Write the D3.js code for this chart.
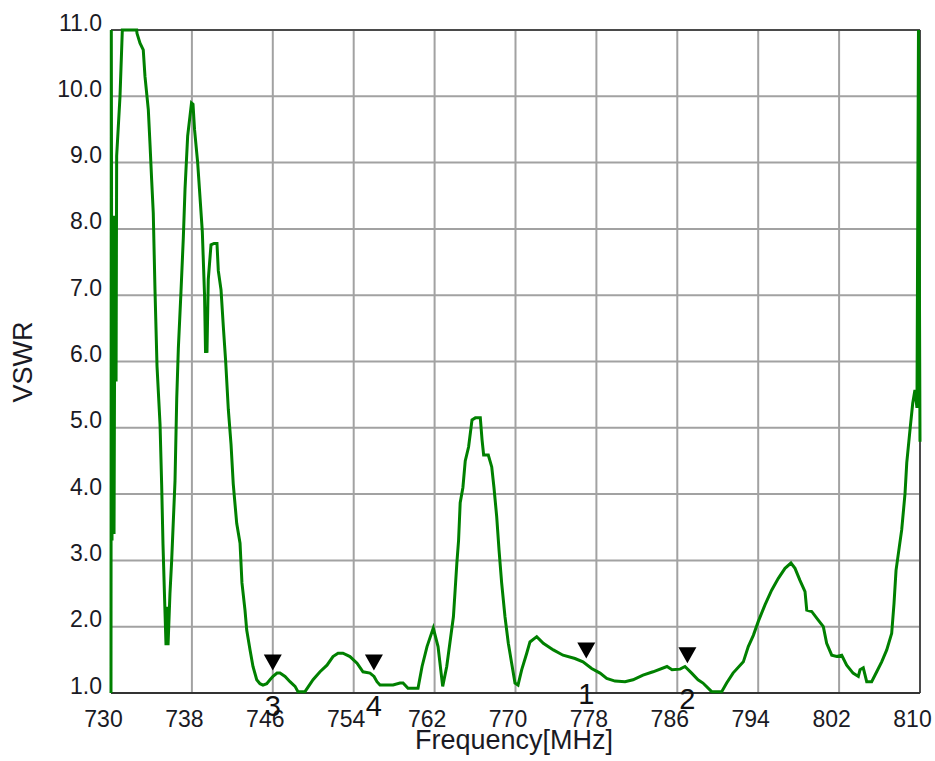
<!DOCTYPE html>
<html>
<head>
<meta charset="utf-8">
<script src="https://cdn.jsdelivr.net/npm/d3@7"></script>
<style>
  body { margin: 0; background: #ffffff; }
  svg { display: block; }
</style>
</head>
<body>
<svg id="chart" width="935" height="761"></svg>
<script>
// Sweep of the antenna port: frequency (MHz) against VSWR
const freqMHz = [
  730.00, 730.03, 730.10, 730.20, 730.30, 730.40, 730.50, 730.56, 730.89, 731.12,
  732.54, 732.57, 732.87, 733.19, 733.36, 733.69, 733.86, 734.02, 734.18, 734.35,
  734.55, 734.85, 735.01, 735.14, 735.29, 735.44, 735.54, 735.64, 735.83, 736.00,
  736.33, 736.50, 736.66, 736.92, 737.15, 737.32, 737.58, 737.81, 737.96, 738.11,
  738.26, 738.57, 738.80, 739.03, 739.25, 739.35, 739.44, 739.49, 739.62, 739.89,
  740.19, 740.48, 740.61, 740.88, 741.11, 741.34, 741.60, 741.87, 742.09, 742.43,
  742.76, 742.95, 743.25, 743.42, 743.75, 744.04, 744.41, 744.73, 745.03, 745.40,
  745.72, 746.02, 746.42, 746.71, 747.21, 747.70, 748.20, 748.49, 749.18, 749.98,
  750.67, 751.36, 751.95, 752.45, 752.94, 753.63, 754.33, 754.92, 755.61, 756.01,
  756.30, 756.60, 757.89, 758.58, 758.88, 759.37, 760.36, 760.76, 761.25, 761.87,
  762.34, 762.80, 763.20, 763.86, 764.03, 764.20, 764.37, 764.53, 764.80, 765.03,
  765.36, 765.70, 766.03, 766.52, 766.69, 766.85, 767.31, 767.65, 767.87, 768.14,
  768.37, 768.63, 768.96, 769.29, 769.62, 769.95, 770.25, 770.61, 771.11, 771.43,
  772.10, 772.75, 773.74, 774.70, 775.88, 776.67, 777.53, 778.36, 779.02, 779.84,
  780.83, 781.62, 782.61, 783.60, 784.98, 785.48, 786.27, 786.76, 787.42, 788.05,
  788.54, 789.40, 790.39, 790.88, 791.51, 792.53, 793.02, 793.52, 794.01, 794.67,
  795.33, 795.99, 796.65, 797.24, 797.64, 798.13, 798.63, 798.80, 799.29, 799.94,
  800.44, 800.77, 801.27, 801.76, 802.26, 802.75, 803.38, 803.90, 804.07, 804.39,
  804.73, 805.22, 805.72, 806.21, 806.71, 807.20, 807.43, 807.63, 807.95, 808.19,
  808.52, 808.69, 809.01, 809.28, 809.50, 809.70, 809.85, 810.00
];
const vswr = [
  1.00, 11.0, 3.30, 8.20, 3.40, 8.20, 5.70, 9.10, 10.0, 11.0,
  11.0, 10.95, 10.8, 10.7, 10.3, 9.80, 9.27, 8.74, 8.24, 7.08,
  5.93, 5.05, 4.14, 3.25, 2.47, 1.72, 2.30, 1.72, 2.50, 3.00,
  4.20, 5.44, 6.20, 7.05, 7.86, 8.60, 9.40, 9.70, 9.90, 9.88,
  9.50, 9.00, 8.48, 7.96, 7.00, 6.13, 6.60, 6.13, 7.24, 7.76,
  7.78, 7.78, 7.37, 7.08, 6.52, 6.00, 5.28, 4.75, 4.15, 3.56,
  3.26, 2.66, 2.25, 1.95, 1.65, 1.40, 1.20, 1.14, 1.12, 1.14,
  1.20, 1.25, 1.30, 1.30, 1.25, 1.17, 1.10, 1.02, 1.02, 1.20,
  1.32, 1.42, 1.55, 1.60, 1.60, 1.55, 1.45, 1.32, 1.30, 1.25,
  1.17, 1.12, 1.12, 1.15, 1.15, 1.07, 1.07, 1.40, 1.70, 1.98,
  1.70, 1.10, 1.40, 2.15, 2.55, 2.96, 3.30, 3.87, 4.10, 4.50,
  4.71, 5.12, 5.15, 5.15, 4.82, 4.59, 4.59, 4.41, 4.10, 3.66,
  3.16, 2.66, 2.15, 1.75, 1.45, 1.15, 1.12, 1.35, 1.60, 1.77,
  1.85, 1.75, 1.65, 1.57, 1.52, 1.47, 1.37, 1.30, 1.22, 1.18,
  1.17, 1.20, 1.27, 1.32, 1.40, 1.35, 1.36, 1.40, 1.30, 1.20,
  1.15, 1.02, 1.02, 1.15, 1.30, 1.47, 1.70, 1.87, 2.08, 2.33,
  2.55, 2.73, 2.88, 2.96, 2.88, 2.70, 2.53, 2.25, 2.23, 2.10,
  2.00, 1.75, 1.57, 1.55, 1.57, 1.42, 1.30, 1.25, 1.35, 1.38,
  1.17, 1.17, 1.32, 1.47, 1.65, 1.90, 2.35, 2.85, 3.20, 3.46,
  4.01, 4.47, 4.97, 5.37, 5.57, 5.30, 11.0, 4.79
];

const xTicks = [730, 738, 746, 754, 762, 770, 778, 786, 794, 802, 810];
const yTicks = [1, 2, 3, 4, 5, 6, 7, 8, 9, 10, 11];

// Sweep markers: id, frequency (MHz), VSWR at that frequency
const markerIds = ["1", "2", "3", "4"];
const markerFreq = [777, 787, 746, 756];
const markerVswr = [1.43, 1.36, 1.25, 1.25];

const xTitle = "Frequency[MHz]";
const yTitle = "VSWR";

const svg = d3.select("#chart");
const plot = { left: 111, right: 920, top: 30, bottom: 693 };

const x = d3.scaleLinear().domain([730, 810]).range([plot.left, plot.right]);
const y = d3.scaleLinear().domain([1, 11]).range([plot.bottom, plot.top]);

const font = "'Liberation Sans', Arial, sans-serif";
const textColor = "#1a1a24";

// grid
const grid = svg.append("g").attr("class", "grid");
grid.selectAll("line.v")
  .data(xTicks.slice(1, -1))
  .join("line")
  .attr("x1", d => x(d)).attr("x2", d => x(d))
  .attr("y1", plot.top).attr("y2", plot.bottom)
  .attr("stroke", "#a2a2a2").attr("stroke-width", 2);
grid.selectAll("line.h")
  .data(yTicks.slice(1, -1))
  .join("line")
  .attr("x1", plot.left).attr("x2", plot.right)
  .attr("y1", d => y(d)).attr("y2", d => y(d))
  .attr("stroke", "#a2a2a2").attr("stroke-width", 2);

// frame
svg.append("line").attr("x1", plot.left).attr("x2", plot.right)
  .attr("y1", plot.top).attr("y2", plot.top)
  .attr("stroke", "#4a4a4a").attr("stroke-width", 2);
svg.append("line").attr("x1", plot.right).attr("x2", plot.right)
  .attr("y1", plot.top).attr("y2", plot.bottom)
  .attr("stroke", "#4a4a4a").attr("stroke-width", 2);
svg.append("line").attr("x1", plot.left).attr("x2", plot.left)
  .attr("y1", plot.top).attr("y2", plot.bottom)
  .attr("stroke", "#4a4a4a").attr("stroke-width", 2);
svg.append("line").attr("x1", plot.left).attr("x2", plot.right)
  .attr("y1", plot.bottom).attr("y2", plot.bottom)
  .attr("stroke", "#333333").attr("stroke-width", 2);

// axes (labels only)
const yAxis = svg.append("g")
  .attr("transform", `translate(${plot.left},0)`)
  .call(d3.axisLeft(y).tickValues(yTicks).tickFormat(d3.format(".1f")).tickSize(0).tickPadding(9));
yAxis.select(".domain").remove();
yAxis.selectAll("text")
  .attr("dy", "0")
  .attr("font-family", font).attr("font-size", 23).attr("fill", textColor);

const xAxis = svg.append("g")
  .attr("transform", `translate(0,${plot.bottom})`)
  .call(d3.axisBottom(x).tickValues(xTicks).tickFormat(d3.format("d")).tickSize(0));
xAxis.select(".domain").remove();
xAxis.selectAll("text")
  .attr("y", 34).attr("dy", "0").attr("dx", -8)
  .attr("font-family", font).attr("font-size", 23).attr("fill", textColor);

// titles
svg.append("text")
  .attr("x", 514).attr("y", 749)
  .attr("text-anchor", "middle")
  .attr("font-family", font).attr("font-size", 27).attr("fill", textColor)
  .text(xTitle);
svg.append("text")
  .attr("transform", "translate(32,362) rotate(-90)")
  .attr("text-anchor", "middle")
  .attr("font-family", font).attr("font-size", 27).attr("fill", textColor)
  .text(yTitle);

// VSWR trace
const pts = freqMHz.map((f, i) => [f, vswr[i]]);
svg.append("path")
  .datum(pts)
  .attr("fill", "none")
  .attr("stroke", "#008000")
  .attr("stroke-width", 3)
  .attr("stroke-linejoin", "miter")
  .attr("d", d3.line().x(d => x(d[0])).y(d => y(d[1])));

// markers: downward triangle just above the trace, id below the axis
const markers = markerIds.map((id, i) => ({ id, f: markerFreq[i], v: markerVswr[i] }));
const mg = svg.append("g").selectAll("g")
  .data(markers)
  .join("g")
  .attr("transform", d => `translate(${x(d.f)},${y(d.v) - 6})`);
mg.append("path")
  .attr("d", "M0,0 L-9,-16 L9,-16 Z")
  .attr("fill", "#000000");
mg.append("text")
  .attr("y", 46)
  .attr("text-anchor", "middle")
  .attr("font-family", font).attr("font-size", 29).attr("fill", "#111111")
  .text(d => d.id);
</script>
</body>
</html>
